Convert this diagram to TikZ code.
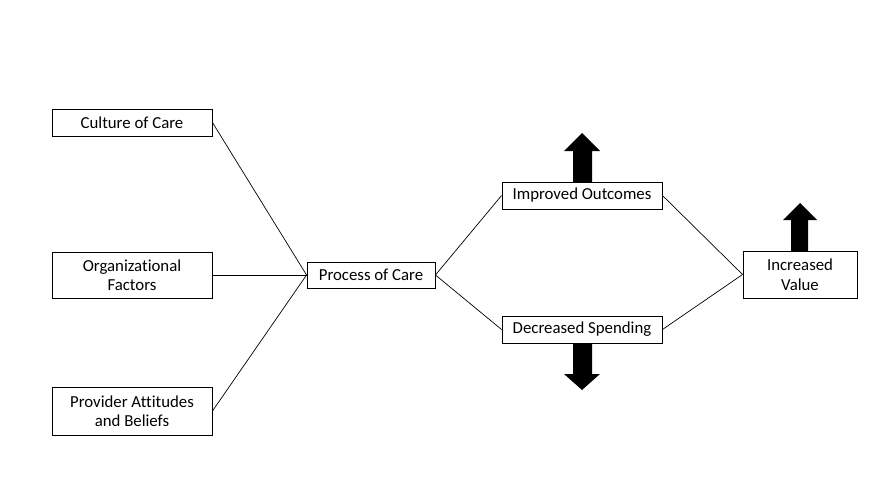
\documentclass[tikz,border=0pt]{standalone}
\usepackage{fontspec}
\setmainfont[Ligatures=NoCommon]{Carlito}
\begin{document}
\begin{tikzpicture}[x=1pt,y=-1pt,
  box/.style={draw, line width=0.9pt, inner sep=0pt, align=center, font=\fontsize{16.8}{19.5}\selectfont},
  link/.style={line width=0.7pt},
  fatarrow/.style={fill=black, draw=none}]
\useasboundingbox[fill=white] (0,0) rectangle (885,498);
\node[box, minimum width=160pt, minimum height=27pt] (cult) at (132,122.5) {Culture of Care};
\node[box, minimum width=160pt, minimum height=46pt] (org) at (132,275) {Organizational\\Factors};
\node[box, minimum width=160pt, minimum height=48pt] (prov) at (132,411) {Provider Attitudes\\and Beliefs};
\node[box, minimum width=128pt, minimum height=26pt] (proc) at (371,275) {Process of Care};
\node[box, minimum width=160pt, minimum height=27pt] (imp) at (582,195.5) {Improved Outcomes};
\node[box, minimum width=160pt, minimum height=27pt] (dec) at (582,329.5) {Decreased Spending};
\node[box, minimum width=114pt, minimum height=47pt] (val) at (800,274.5) {Increased\\Value};
\draw[link] (cult.east) -- (proc.west);
\draw[link] (org.east) -- (proc.west);
\draw[link] (prov.east) -- (proc.west);
\draw[link] (proc.east) -- (imp.west);
\draw[link] (proc.east) -- (dec.west);
\draw[link] (imp.east) -- (val.west);
\draw[link] (dec.east) -- (val.west);
% fat arrows
\fill[fatarrow] (573,182) -- (573,151) -- (564,151) -- (582,133) -- (600,151) -- (592,151) -- (592,182) -- cycle;
\fill[fatarrow] (573,343) -- (573,374) -- (564,374) -- (582,390) -- (600,374) -- (592,374) -- (592,343) -- cycle;
\fill[fatarrow] (791,251) -- (791,220) -- (783,220) -- (800,203) -- (817,220) -- (808,220) -- (808,251) -- cycle;
\end{tikzpicture}
\end{document}
